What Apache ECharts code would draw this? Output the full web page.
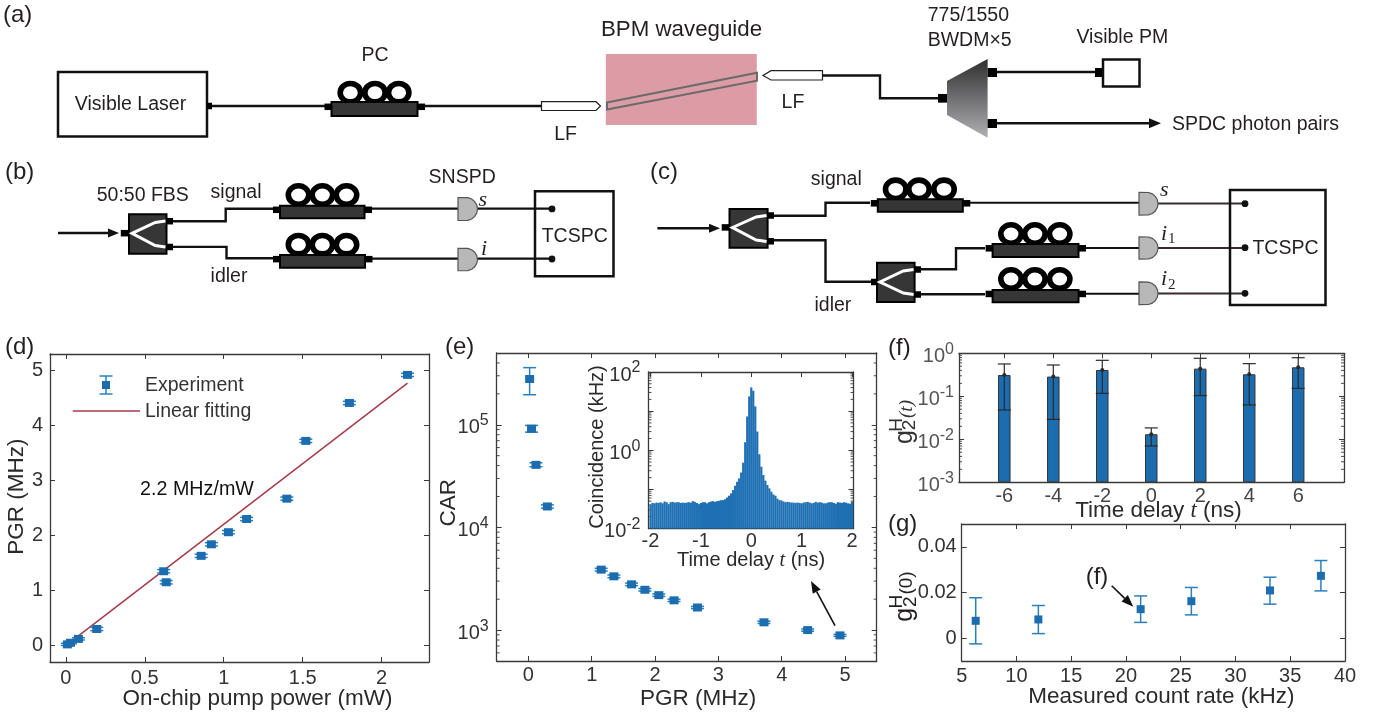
<!DOCTYPE html>
<html><head><meta charset="utf-8">
<style>html,body{margin:0;padding:0;background:#fff}#c{width:1396px;height:715px}</style>
<script src="https://cdn.jsdelivr.net/npm/echarts@6/dist/echarts.min.js"></script>
</head><body><div id="c"></div>
<script>
// ---------- data ----------
const dPower=[0.01,0.03,0.08,0.196,0.62,0.636,0.857,0.922,1.03,1.145,1.40,1.52,1.796,2.164];
const dPGR=[0.02,0.05,0.12,0.30,1.35,1.15,1.63,1.84,2.06,2.30,2.67,3.72,4.41,4.92];
const dErr=[0.02,0.02,0.02,0.03,0.03,0.03,0.03,0.03,0.03,0.03,0.03,0.03,0.03,0.03];
const fitPower=[0.01,2.164];
const fitPGR=[0.02,4.77];
const ePGR=[0.02,0.05,0.12,0.30,1.15,1.35,1.63,1.84,2.06,2.30,2.67,3.72,4.41,4.92];
const eCAR=[279000,91500,40700,16000,3880,3340,2790,2470,2190,1950,1660,1190,1000,888];
const eLow=[196000,84700,39000,15400,3760,3240,2710,2400,2130,1900,1620,1160,975,868];
const eHigh=[360000,98500,42600,16600,4000,3440,2870,2540,2250,2000,1700,1220,1025,908];
const eMinor=[600,700,800,900,2000,3000,4000,5000,6000,7000,8000,9000,20000,30000,40000,50000,60000,70000,80000,90000,200000,300000,400000];
const insetT=[-2,-1.96,-1.92,-1.88,-1.84,-1.8,-1.76,-1.72,-1.68,-1.64,-1.6,-1.56,-1.52,-1.48,-1.44,-1.4,-1.36,-1.32,-1.28,-1.24,-1.2,-1.16,-1.12,-1.08,-1.04,-1,-0.96,-0.92,-0.88,-0.84,-0.8,-0.76,-0.72,-0.68,-0.64,-0.6,-0.56,-0.52,-0.48,-0.44,-0.4,-0.36,-0.32,-0.28,-0.24,-0.2,-0.16,-0.12,-0.08,-0.04,0,0.04,0.08,0.12,0.16,0.2,0.24,0.28,0.32,0.36,0.4,0.44,0.48,0.52,0.56,0.6,0.64,0.68,0.72,0.76,0.8,0.84,0.88,0.92,0.96,1,1.04,1.08,1.12,1.16,1.2,1.24,1.28,1.32,1.36,1.4,1.44,1.48,1.52,1.56,1.6,1.64,1.68,1.72,1.76,1.8,1.84,1.88,1.92,1.96,2];
const insetCoinc=[.041,.045,.044,.046,.045,.047,.044,.049,.047,.042,.047,.048,.046,.047,.047,.045,.046,.045,.046,.047,.046,.050,.048,.045,.042,.045,.047,.047,.044,.047,.049,.050,
.048,.050,.051,.053,.053,.056,.062,.069,.079,.096,.124,.157,.191,.27,.48,1.6,7.3,23.8,40.4,33.2,13.2,3.0,.79,.38,.233,.167,.129,.106,.087,.074,.069,.058,.053,.052,.049,
.047,.048,.047,.046,.046,.045,.046,.045,.044,.046,.047,.048,.046,.044,.045,.048,.046,.047,.046,.044,.044,.046,.047,.047,.045,.043,.047,.046,.045,.047,.046,.044,.043,.048];
const insetMinor=[.02,.03,.04,.05,.06,.07,.08,.09,.2,.3,.4,.5,.6,.7,.8,.9,2,3,4,5,6,7,8,9,20,30,40,50,60,70,80,90];
const fT=[-6,-4,-2,0,2,4,6];
const fG2=[.313,.287,.41,.0131,.44,.325,.472];
const fLow=[.048,.029,.117,.007,.104,.063,.153];
const fHigh=[.565,.535,.687,.0184,.765,.575,.79];
const fMinor=[.002,.003,.004,.005,.006,.007,.008,.009,.02,.03,.04,.05,.06,.07,.08,.09,.2,.3,.4,.5,.6,.7,.8,.9];
const gRate=[6.28,12.0,21.34,25.97,33.15,37.8];
const gG2=[.0076,.0082,.0127,.0162,.0209,.0273];
const gLow=[-.0025,.002,.0069,.0102,.0149,.0207];
const gHigh=[.0177,.0143,.0185,.0222,.0267,.034];
const dXTicks=[0,0.5,1,1.5,2], dYTicks=[0,1,2,3,4,5];
const eXTicks=[0,1,2,3,4,5];
const insetXTicks=[-2,-1,0,1,2];
const fXTicks=[-6,-4,-2,0,2,4,6];
const gXTicks=[5,10,15,20,25,30,35,40], gYTicks=[0,0.02,0.04];

// ---------- styles ----------
const FONT='"Liberation Sans",Arial,sans-serif', SERIF='"Liberation Serif",serif';
const FRAME='#3a3a3a', BLUE='#1b6db0', EBLUE='#2a80bd', INK='#231f20';
const grid=[],xAxis=[],yAxis=[],series=[];

function supRich(color,size){return {b:{fontSize:size,color,fontFamily:FONT,lineHeight:size+4,padding:[6,0,0,0]},s:{fontSize:size-4,color,fontFamily:FONT,verticalAlign:'top',lineHeight:size-6}};}
function logFmt(v){const e=Math.log10(v),r=Math.round(e);return Math.abs(e-r)<1e-6?r:null;}

function axisBase(gi){return {gridIndex:gi,nameMoveOverlap:false,axisLine:{show:true,onZero:false,lineStyle:{color:FRAME,width:1.3}},
  axisTick:{show:true,inside:true,length:5,lineStyle:{color:FRAME,width:1}},splitLine:{show:false},minorTick:{show:false}};}

function panel(r,xc,yc){
  const gi=grid.length;
  grid.push({left:r[0],top:r[1],width:r[2]-r[0],height:r[3]-r[1],show:false});
  const xi=xAxis.length, yi=yAxis.length;
  const c=xc.color||'#333', cy=yc.color||'#333', fs=xc.size||20, ys=yc.size||20;
  xAxis.push(Object.assign(axisBase(gi),{type:'value',position:'bottom',min:xc.min,max:xc.max,
    axisTick:Object.assign(axisBase(gi).axisTick,{customValues:xc.ticks}),
    axisLabel:{customValues:xc.ticks,margin:xc.margin,fontSize:fs,color:c,fontFamily:FONT},
    name:xc.name,nameLocation:'middle',nameGap:xc.gap,nameTextStyle:{fontSize:xc.nameSize||22.5,color:xc.nameColor||'#2a2a2a',fontFamily:FONT,rich:xc.rich,padding:[0,0,0,xc.shift||0]}}));
  xAxis.push(Object.assign(axisBase(gi),{type:'value',position:'top',min:xc.min,max:xc.max,
    axisTick:Object.assign(axisBase(gi).axisTick,{customValues:xc.ticks}),axisLabel:{show:false}}));
  const yType=yc.log?{type:'log',logBase:10,startValue:yc.min}:{type:'value',axisTick:Object.assign(axisBase(gi).axisTick,{customValues:yc.ticks})};
  const lab=yc.log?{margin:yc.margin,rich:supRich(cy,ys),
      formatter:v=>{const e=logFmt(v);if(e===null||(yc.labelEvery&&e%yc.labelEvery))return '';return '{b|10}{s|'+e+'}';},showMinLabel:yc.edgeLabels,showMaxLabel:yc.edgeLabels}
    :{customValues:yc.ticks,margin:yc.margin,fontSize:ys,color:cy,fontFamily:FONT};
  yAxis.push(Object.assign(axisBase(gi),yType,{position:'left',min:yc.min,max:yc.max,axisLabel:lab,
    name:yc.name,nameLocation:'middle',nameGap:yc.gap,nameTextStyle:{fontSize:yc.nameSize||22.5,color:'#2a2a2a',fontFamily:FONT,padding:[0,0,0,yc.shift||0]}}));
  yAxis.push(Object.assign(axisBase(gi),yType,{position:'right',min:yc.min,max:yc.max,axisLabel:{show:false}}));
  if(yc.minor){
    series.push({type:'custom',coordinateSystem:'cartesian2d',xAxisIndex:xi,yAxisIndex:yi,silent:true,clip:false,
      data:yc.minor.map(v=>[xc.min,v]),encode:{x:0,y:1},
      renderItem:(p,api)=>{
        const a=api.coord([xc.min,api.value(1)]),b=api.coord([xc.max,api.value(1)]);
        const st={stroke:FRAME,lineWidth:0.9};
        return {type:'group',children:[
          {type:'line',shape:{x1:a[0],y1:a[1],x2:a[0]+3,y2:a[1]},style:st},
          {type:'line',shape:{x1:b[0],y1:b[1],x2:b[0]-3,y2:b[1]},style:st}]};
      }});
  }
  return {xi,yi};
}

function errSeries(ax,xs,low,high,color,lw,cap){
  series.push({type:'custom',coordinateSystem:'cartesian2d',xAxisIndex:ax.xi,yAxisIndex:ax.yi,silent:true,clip:false,
    data:xs.map((x,i)=>[x,low[i],high[i]]),encode:{x:0,y:[1,2]},z:4,
    renderItem:(p,api)=>{
      const a=api.coord([api.value(0),api.value(1)]),b=api.coord([api.value(0),api.value(2)]);
      const st={stroke:color,lineWidth:lw};
      return {type:'group',children:[
        {type:'line',shape:{x1:a[0],y1:a[1],x2:b[0],y2:b[1]},style:st},
        {type:'line',shape:{x1:a[0]-cap,y1:a[1],x2:a[0]+cap,y2:a[1]},style:st},
        {type:'line',shape:{x1:b[0]-cap,y1:b[1],x2:b[0]+cap,y2:b[1]},style:st}]};
    }});
}
function squares(ax,xs,ys,size,name){
  series.push({type:'scatter',name,xAxisIndex:ax.xi,yAxisIndex:ax.yi,data:xs.map((x,i)=>[x,ys[i]]),symbol:'rect',symbolSize:size,
    itemStyle:{color:BLUE,opacity:1},z:5,silent:true});
}

// (d)
const pd=panel([50,354,429,662],
  {min:-0.1,max:2.3,ticks:dXTicks,margin:6,name:'On-chip pump power (mW)',gap:25,shift:36},
  {min:-0.3,max:5.3,ticks:dYTicks,margin:7,name:'PGR (MHz)',gap:22,shift:22.6});
series.push({type:'line',name:'Linear fitting',xAxisIndex:pd.xi,yAxisIndex:pd.yi,data:fitPower.map((x,i)=>[x,fitPGR[i]]),
  showSymbol:false,lineStyle:{color:'#a53a4c',width:1.5},z:3,silent:true});
errSeries(pd,dPower,dPGR.map((v,i)=>v-dErr[i]),dPGR.map((v,i)=>v+dErr[i]),EBLUE,1.5,6.5);
squares(pd,dPower,dPGR,[9,8],'Experiment');

// (e)
const pe=panel([496.7,353,876.7,661],
  {min:-0.5,max:5.5,ticks:eXTicks,margin:4,name:'PGR (MHz)',gap:26,shift:23},
  {log:true,min:500,max:500000,margin:8,name:'CAR',gap:36,shift:8.6,minor:eMinor,edgeLabels:false});
errSeries(pe,ePGR,eLow,eHigh,EBLUE,1.5,6.5);
squares(pe,ePGR,eCAR,[9,8],'CAR');

// inset of (e)
const pi=panel([648.5,372,853.5,528.5],
  {min:-2.04,max:2.03,ticks:insetXTicks,margin:3,name:'{n|Time delay }{i|t}{n| (ns)}',gap:22,
   rich:{n:{fontSize:20,color:'#2a2a2a',fontFamily:FONT},i:{fontSize:20,color:'#2a2a2a',fontFamily:SERIF,fontStyle:'italic'}}},
  {log:true,min:0.01,max:100,margin:8,name:'Coincidence (kHz)',gap:41,shift:6.6,nameSize:20,minor:insetMinor,labelEvery:2,edgeLabels:true});
series.push({type:'bar',name:'Coincidence',xAxisIndex:pi.xi,yAxisIndex:pi.yi,data:insetT.map((t,i)=>[t,insetCoinc[i]]),barWidth:2.2,
  itemStyle:{color:'#1f70b4'},z:2,silent:true});

// (f)
const pf=panel([959,353.3,1344,482.3],
  {min:-7.85,max:7.87,ticks:fXTicks,margin:4,color:'#444',name:'{n|Time delay }{i|t}{n| (ns)}',gap:17,shift:14,
   rich:{n:{fontSize:22.5,color:'#2a2a2a',fontFamily:FONT},i:{fontSize:22.5,color:'#2a2a2a',fontFamily:SERIF,fontStyle:'italic'}}},
  {log:true,min:0.001,max:1,margin:5,color:'#555',minor:fMinor,edgeLabels:true});
series.push({type:'bar',name:'g2',xAxisIndex:pf.xi,yAxisIndex:pf.yi,data:fT.map((t,i)=>[t,fG2[i]]),barWidth:12.5,
  itemStyle:{color:'#1b6db0',borderColor:'#333',borderWidth:1},z:2,silent:true});
errSeries(pf,fT,fLow,fHigh,'#2a2a2a',1.2,6.5);
series.push({type:'scatter',xAxisIndex:pf.xi,yAxisIndex:pf.yi,data:fT.map((t,i)=>[t,fG2[i]]),symbolSize:4,itemStyle:{color:'#2a2a2a',opacity:1},z:5,silent:true});

// (g)
const pg=panel([961.7,524,1345,661],
  {min:5,max:40,ticks:gXTicks,margin:5,name:'Measured count rate (kHz)',gap:24.5,shift:16},
  {min:-0.01,max:0.05,ticks:gYTicks,margin:5});
errSeries(pg,gRate,gLow,gHigh,EBLUE,1.5,6.5);
squares(pg,gRate,gG2,[8,8],'g2(0)');

// ---------- schematic drawing helpers ----------
const G=[];
function T(text,x,y,o){o=o||{};G.push({type:'text',x,y,rotation:o.rot||0,silent:true,z:50,style:{text,x:0,y:0,
  font:(o.italic?'italic ':'')+(o.size||19.5)+'px '+(o.family||FONT),fill:o.fill||INK,
  textAlign:o.align||'left',textVerticalAlign:'middle'}});}
function R(x0,y0,x1,y1,fill,stroke,lw){G.push({type:'rect',silent:true,z:50,shape:{x:x0,y:y0,width:x1-x0,height:y1-y0},style:{fill:fill||'none',stroke:stroke||null,lineWidth:lw||0}});}
function P(points,stroke,lw){G.push({type:'polyline',silent:true,z:50,shape:{points},style:{fill:'none',stroke:stroke||'#111',lineWidth:lw||2.2,lineJoin:'miter'}});}
function Poly(points,fill,stroke,lw){G.push({type:'polygon',silent:true,z:50,shape:{points},style:{fill,stroke:stroke||null,lineWidth:lw||0}});}
function Conn(x0,x1,yc,h){R(x0,yc-(h||6.5)/2,x1,yc+(h||6.5)/2,'#000');}
function Arrow(x1,y1,x2,y2,len,half,lw){
  const a=Math.atan2(y2-y1,x2-x1),bx=x2-len*Math.cos(a),by=y2-len*Math.sin(a);
  P([[x1,y1],[bx,by]],'#111',lw||1.6);
  Poly([[x2,y2],[bx-half*Math.sin(a),by+half*Math.cos(a)],[bx+half*Math.sin(a),by-half*Math.cos(a)]],'#111');
}
function PC(x0,x1,yTop,yBot,yRing,rings){
  rings.forEach(cx=>G.push({type:'ellipse',silent:true,z:50,shape:{cx,cy:yRing,rx:10.2,ry:9.2},style:{fill:'none',stroke:'#000',lineWidth:5.6}}));
  R(x0,yTop,x1,yBot,'#363636','#000',2);
  const yc=(yTop+yBot)/2-2.5;
  Conn(x0-7,x0,yc+0.3);Conn(x1,x1+7.5,yc+0.3);
}
function Det(x0,x1,yc,h){
  const pts=[[x0,yc-h/2]],w=(x1-x0)*0.6,sx=x1-w;
  [-80,-60,-40,-20,0,20,40,60,80].forEach(d=>{const t=d*Math.PI/180;pts.push([sx+w*Math.cos(t),yc+h/2*Math.sin(t)]);});
  pts.push([x0,yc+h/2]);
  Poly(pts,'#b8b8b8','#555',1.2);
}
function Split(x0,x1,y0,y1,yc,yu,yl){
  R(x0,y0,x1,y1,'#363636','#000',2);
  const w=x1-x0;
  P([[x1-1,yu],[x0+w*0.7,yu+1.5],[x0+w*0.08,yc],[x0+w*0.7,yl-1.5],[x1-1,yl]],'#fff',3);
}
function Dot(x,y){G.push({type:'circle',silent:true,z:50,shape:{cx:x,cy:y,r:3.4},style:{fill:'#111'}});}
const TXT={size:24};

// panel labels
T('(a)',3,15,TXT);T('(b)',5,172,TXT);T('(c)',650,172,TXT);T('(d)',5,347,TXT);T('(e)',445,347,TXT);T('(f)',888,348,TXT);T('(g)',888,524,TXT);

// (a)
R(58,72,207,136.5,'#fff','#111',2.5);
T('Visible Laser',130.5,105,{align:'center'});
P([[210,106],[327,106]],'#111',2.4);Conn(207,212,106);
PC(331.5,417.5,102,116,92.7,[350.4,375,398.7]);
P([[424,106],[542,106]],'#111',2.4);
Poly([[541.5,101.7],[596,101.7],[600.5,106],[596,110.5],[541.5,110.5]],'#fff','#222',1.2);
T('PC',375,56,{align:'center'});T('LF',565.6,135,{align:'center'});
T('BPM waveguide',601,30,{size:22.3});
R(605.8,54,756.8,125,'#dc9ca6');
Poly([[607,102.5],[757,72.7],[757,80.7],[607,109.5]],'none','#6a6a6a',2);
Poly([[822.5,70.7],[771,70.7],[763,75.5],[771,80],[822.5,80]],'#fff','#222',1.2);
T('LF',793,103,{align:'center'});
P([[822.5,75.5],[880,75.5],[880,98.3],[938,98.3]],'#111',2.4);
Conn(938,947,98.3,8.7);
Poly([[947,81],[987.6,59],[987.6,137.7],[947,115]],new echarts.graphic.LinearGradient(0,0,0,1,[{offset:0,color:'#2f2f2f'},{offset:1,color:'#b0b0b4'}]));
Conn(987.6,997,72.5,9);Conn(987.6,997,123.5,9);
P([[997,72],[1095,72]],'#111',2.4);Conn(1095,1103,72.5,9);
R(1103,59.5,1139.5,86.5,'#fff','#111',2.5);
Arrow(997,123.3,1161,123.3,12,5,2.4);
T('775/1550',927.7,16);T('BWDM×5',927.7,40.7);T('Visible PM',1076.4,38);T('SPDC photon pairs',1172,125);

// (b)
Arrow(58,233,119,233,11,4.5,2.4);Conn(120.8,128.6,233.2);
Split(129,166.5,214.3,253.7,233.3,221,247);
Conn(166.5,173,221.2);Conn(166.5,173,247);
P([[173,221.3],[225.7,221.3],[225.7,208.7],[273,208.7]],'#111',2.4);
P([[173,246.9],[226.5,246.9],[226.5,258.3],[273,258.3]],'#111',2.4);
PC(280,364.5,205.7,218.3,195,[298.5,322.4,346.5]);
PC(280,365,255,267.7,244.7,[298.5,322.4,346.5]);
P([[372,208.7],[552,208.7]],'#111',2.2);P([[372,258.6],[552,258.6]],'#111',2.2);
Det(458,477.5,209,23);Det(458,477.5,259.5,22.5);
R(535,191.3,613.5,276.3,'none','#111',2.5);
Dot(552,208.9);Dot(552,259);
T('TCSPC',574.7,236.7,{align:'center'});
T('50:50 FBS',96.7,196);T('signal',210.6,193);T('idler',210.6,277);T('SNSPD',428.6,178);
T('s',478.5,200,{italic:true,family:SERIF,size:22});T('i',481,249,{italic:true,family:SERIF,size:22});

// (c)
Arrow(657.4,228.3,720,228.3,11,4.5,2.4);Conn(721.7,729.5,227.4);
Split(729.5,767.6,209,247.7,227.5,215.5,241.5);
Conn(767.6,774,215.5);Conn(767.6,774,241.3);
P([[774,215.7],[825.5,215.7],[825.5,202.7],[870,202.7]],'#111',2.4);
P([[774,240.3],[825.5,240.3],[825.5,281.7],[871,281.7]],'#111',2.4);
Conn(871,877,282);
Split(877,914.6,262.7,302,282,269.5,294.5);
Conn(914.6,921,269.5);Conn(914.6,921,294.5);
P([[921,269.3],[956,269.3],[956,248.3],[985,248.3]],'#111',2.4);
P([[921,294.3],[985,294.3]],'#111',2.4);
PC(877.8,962.8,199.3,211.7,189.3,[895.7,919,944]);
PC(992.6,1078.5,244,257,234,[1011,1034.9,1059.7]);
PC(992.6,1078.5,290,302.3,279,[1011,1034.9,1059.7]);
P([[970,202.7],[1139,202.7]],'#111',2);P([[1085,248],[1139,248]],'#111',2);P([[1085,293.7],[1139,293.7]],'#111',2);
P([[1158,203.5],[1245,203.5]],'#3a2c2c',2.2);P([[1158,248],[1245,248]],'#3a2c2c',2.2);P([[1158,293.5],[1245,293.5]],'#3a2c2c',2.2);
Det(1139,1158,203.7,22.7);Det(1139,1158,248,22.3);Det(1139,1158,293.3,22.7);
R(1230,190,1325.5,305,'none','#111',2.5);
Dot(1245,203.7);Dot(1245,247.7);Dot(1245,293.3);
T('TCSPC',1285.5,248.3,{align:'center'});
T('signal',810.8,180);T('idler',814.5,306);
const M={italic:true,family:SERIF,size:22};
T('s',1160,190.7,M);T('i',1161,234,M);T('1',1168,239,{family:SERIF,size:15});T('i',1161,279.3,M);T('2',1168,285,{family:SERIF,size:15});

// (d) legend and note
G.push({type:'line',silent:true,z:50,shape:{x1:72.7,y1:411,x2:140,y2:411},style:{stroke:'#a53a4c',lineWidth:1.5}});
P([[106,376],[106,394]],EBLUE,1.5);P([[99.5,376],[112.5,376]],EBLUE,1.5);P([[99.5,394],[112.5,394]],EBLUE,1.5);
R(102,381,110,389,BLUE);
T('Experiment',145,386,{fill:'#333',size:19.5});T('Linear fitting',145,412,{fill:'#333',size:19.5});
T('2.2 MHz/mW',197,489.3,{align:'center',fill:'#111',size:19.7});

// (e) arrow
Arrow(835,625.7,811,581,12,4.5,1.6);

// (f) and (g) composite y titles
const RT=Math.PI/2;
T('g',905,437,{size:25,rot:RT,align:'center',fill:'#333'});
T('H',896.5,425,{size:19,rot:RT,align:'center',fill:'#333'});
T('2',910,425,{size:19,rot:RT,align:'center',fill:'#333'});
T('(t)',907,409,{size:19,rot:RT,align:'center',fill:'#333',family:SERIF,italic:true});
T('g',905,614.7,{size:25,rot:RT,align:'center'});
T('H',896.5,601.7,{size:19,rot:RT,align:'center'});
T('2',910.5,601.7,{size:19,rot:RT,align:'center'});
T('(0)',906.5,583,{size:19,rot:RT,align:'center'});
T('(f)',1097,577,{size:24,align:'center'});
Arrow(1111.7,585.7,1133.3,606.7,12,4.5,1.6);

const chart=echarts.init(document.getElementById('c'),null,{renderer:'canvas'});
chart.setOption({animation:false,backgroundColor:'#fff',textStyle:{fontFamily:FONT},grid,xAxis,yAxis,series,graphic:{elements:G}});
</script></body></html>
